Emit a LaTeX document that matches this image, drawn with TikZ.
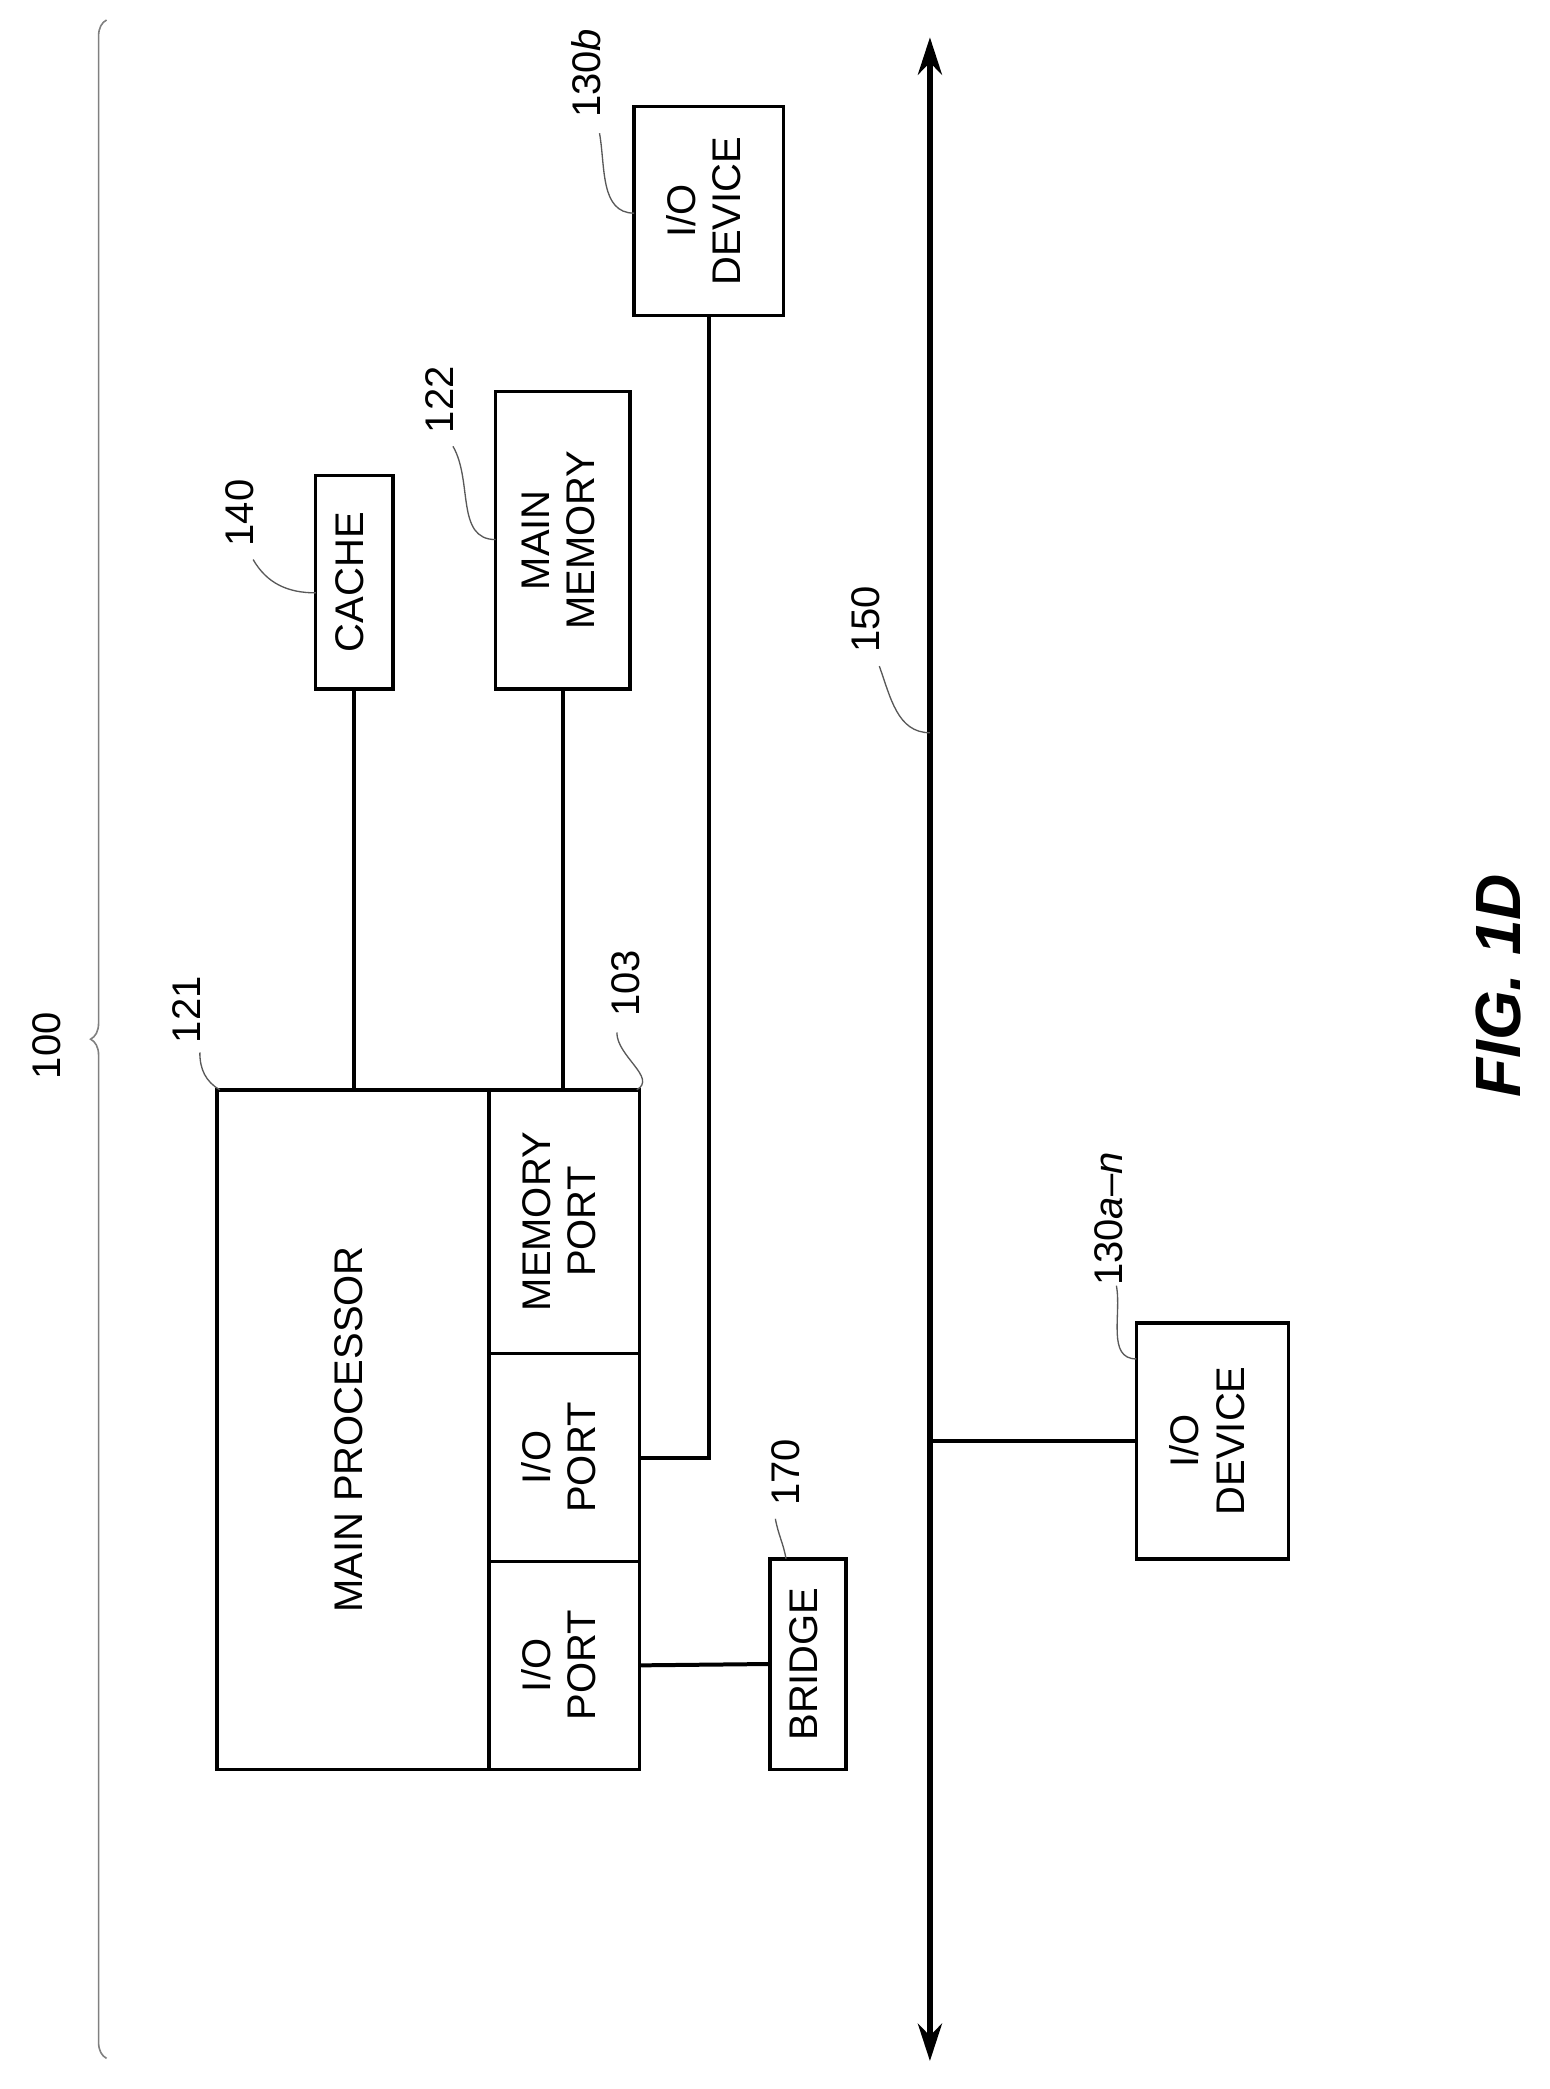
\documentclass[tikz,border=0pt]{standalone}
\usepackage{fontspec}
\setmainfont{Liberation Sans}
\usetikzlibrary{decorations.pathreplacing,arrows.meta}
\begin{document}
\begin{tikzpicture}[x=0.5pt,y=-0.5pt,
  box/.style={draw,line width=1.3pt,inner sep=0pt,font=\fontsize{15}{17}\selectfont},
  wire/.style={line width=1.5pt},
  lead/.style={gray!70!black,line width=0.5pt},
  lbl/.style={rotate=90,font=\fontsize{15}{17}\selectfont,inner sep=1pt}]
\useasboundingbox (0,0) rectangle (1163,1568);
\newcommand{\rt}[1]{\rotatebox{90}{\begin{tabular}{@{}c@{}}#1\end{tabular}}}
\node[box,minimum width=29pt,minimum height=80pt] (cache) at (266,437) {\rt{CACHE}};
\node[box,minimum width=50.5pt,minimum height=111.5pt] (mem) at (422.5,405.5) {\rt{MAIN\\MEMORY}};
\node[box,minimum width=56pt,minimum height=78.5pt] (iob) at (532,158.5) {\rt{I/O\\DEVICE}};
\node[box,minimum width=102pt,minimum height=255pt] (mp) at (265,1073) {\rt{MAIN PROCESSOR}};
\node[box,minimum width=56.5pt,minimum height=99pt] (mport) at (423.5,917) {\rt{MEMORY\\PORT}};
\node[box,minimum width=56.5pt,minimum height=78pt] (io1) at (423.5,1094) {\rt{I/O\\PORT}};
\node[box,minimum width=56.5pt,minimum height=78pt] (io2) at (423.5,1250) {\rt{I/O\\PORT}};
\node[box,minimum width=28.5pt,minimum height=79pt] (bridge) at (606.5,1249) {\rt{BRIDGE}};
\node[box,minimum width=57pt,minimum height=88.5pt] (ioa) at (910,1081.5) {\rt{I/O\\DEVICE}};
\coordinate (busT) at (698,28);
\coordinate (busB) at (698,1547);
\draw[line width=2.2pt,{Stealth[length=14pt,width=9pt]}-{Stealth[length=14pt,width=9pt]}] (busT) -- (busB);
\draw[wire] (cache.south) -- (cache.south |- mp.north);
\draw[wire] (mem.south) -- (mem.south |- mport.north);
\draw[wire] (iob.south) |- (io1.east);
\draw[wire] (io2.east) -- (bridge.west);
\draw[wire] (busB |- ioa.west) -- (ioa.west);
\coordinate (brB) at (80,1545);
\coordinate (brT) at (80,15);
\draw[gray,line width=0.6pt,decorate,decoration={brace,amplitude=6pt}] (brB) -- (brT);
\node[lbl] (l100) at (35,785) {100};
\node[lbl] (l121) at (140,758) {121};
\draw[lead] (150,790) to[out=-90,in=150] (165,818);
\node[lbl] (l103) at (470,738) {103};
\draw[lead] (463,775) to[out=-90,in=30] (478,818);
\node[lbl] (l140) at (180,385) {140};
\draw[lead] (190,420) to[out=-60,in=180] (237,445);
\node[lbl] (l122) at (330,300) {122};
\draw[lead] (340,335) to[out=-60,in=180] (372,405);
\node[lbl] (l130b) at (440,55) {130\textit{b}};
\draw[lead] (450,100) to[out=-80,in=180] (476,160);
\node[lbl] (l150) at (650,465) {150};
\draw[lead] (660,500) to[out=-70,in=180] (698,550);
\node[lbl] (l130a) at (832,915) {130\textit{a}--\textit{n}};
\draw[lead] (838,965) to[out=-80,in=180] (853,1020);
\node[lbl] (l170) at (590,1105) {170};
\draw[lead] (582,1140) to[out=-80,in=100] (590,1170);
\node[rotate=90,font=\fontsize{24}{26}\selectfont\bfseries\itshape] (fig) at (1125,740) {FIG. 1D};
\end{tikzpicture}
\end{document}
